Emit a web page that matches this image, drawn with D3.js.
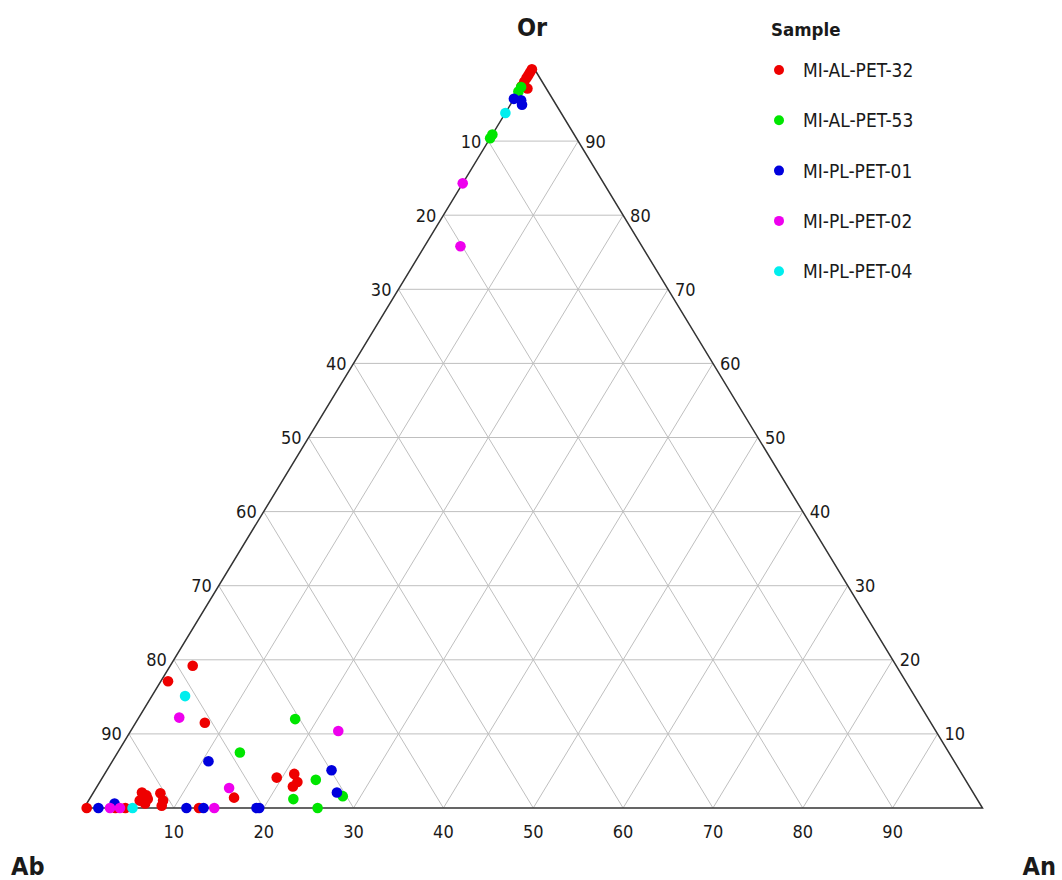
<!DOCTYPE html>
<html>
<head>
<meta charset="utf-8">
<script src="https://cdn.jsdelivr.net/npm/d3@7/dist/d3.min.js"></script>
<style>
    body { margin: 0; background: #fff; }
    svg { display: block; }
    text { font-family: "DejaVu Sans Condensed", "DejaVu Sans", sans-serif; fill: #1a1a1a; }
</style>
</head>
<body>
<svg id="chart"></svg>
<script>
// samples and their colours
const sampleNames = ["MI-AL-PET-32", "MI-AL-PET-53", "MI-PL-PET-01", "MI-PL-PET-02", "MI-PL-PET-04"];
const sampleColors = ["#ee0000", "#00e600", "#0000dd", "#ee00ee", "#00eeee"];

// compositions as [Ab, Or, An] in percent
const pet32 = [
    [0.3, 99.7, 0], [0.7, 99.3, 0], [1.1, 98.9, 0], [1.5, 98.5, 0], [2.0, 98.0, 0],
    [2.6, 97.4, 0], [2.1, 97.1, 0.8],
    [80.3, 19.2, 2.5], [82.1, 17.1, 0.8], [80.8, 11.5, 7.7], [82.6, 1.4, 16.0],
    [76.5, 4.1, 19.4], [74.3, 4.6, 21.1], [74.5, 3.5, 22.0], [75.3, 2.9, 21.8],
    [92.5, 2.1, 5.4], [93.3, 1.0, 5.7], [92.3, 1.2, 6.5], [92.9, 0.6, 6.5], [92.2, 1.7, 6.1],
    [90.5, 2.0, 7.5], [90.7, 1.0, 8.3], [91.2, 0.3, 8.5],
    [99.7, 0, 0.3], [96.5, 0, 3.5], [95.4, 0, 4.6], [87.2, 0, 12.8]
];
const pet53 = [
    [2.7, 97.3, 0], [3.3, 96.7, 0], [9.1, 90.9, 0], [9.6, 90.4, 0],
    [70.5, 12.0, 17.5], [78.9, 7.5, 13.6], [72.3, 3.8, 23.9], [76.1, 1.2, 22.7],
    [70.4, 1.6, 28.0], [74.0, 0, 26.0]
];
const pl01 = [
    [4.3, 95.7, 0], [3.6, 95.5, 0.9], [3.8, 94.9, 1.3],
    [83.0, 6.3, 10.7], [69.9, 5.1, 25.0], [70.8, 2.1, 27.1],
    [98.4, 0, 1.6], [96.3, 0.6, 3.1], [88.6, 0, 11.4], [86.7, 0, 13.3],
    [80.5, 0, 19.5], [80.8, 0, 19.2]
];
const pl02 = [
    [15.7, 84.3, 0], [20.2, 75.8, 4.0],
    [83.3, 12.2, 4.5], [66.5, 10.4, 23.1], [82.5, 2.7, 14.8],
    [97.1, 0, 2.9], [96.0, 0, 4.0], [85.5, 0, 14.5]
];
const pl04 = [
    [6.2, 93.8, 0], [81.2, 15.1, 3.7], [94.6, 0, 5.4]
];
const sampleData = [pet32, pet53, pl01, pl02, pl04];

const ticks = [10, 20, 30, 40, 50, 60, 70, 80, 90];

const width = 1062, height = 880;
const svg = d3.select("#chart").attr("width", width).attr("height", height);

// triangle geometry: x along An (+ half of Or), y along Or
const xScale = d3.scaleLinear().domain([0, 100]).range([84, 982.5]);
const yScale = d3.scaleLinear().domain([0, 100]).range([808, 67]);
const px = (ab, or, an) => [xScale(an + or / 2), yScale(or)];

const grid = svg.append("g")
    .attr("stroke", "#bfbfbf")
    .attr("stroke-width", 1)
    .attr("fill", "none");

ticks.forEach(v => {
    const lines = [
        [px(100 - v, v, 0), px(0, v, 100 - v)],   // constant Or
        [px(100 - v, 0, v), px(0, 100 - v, v)],   // constant An
        [px(v, 0, 100 - v), px(v, 100 - v, 0)]    // constant Ab
    ];
    lines.forEach(l => {
        grid.append("line")
            .attr("x1", l[0][0]).attr("y1", l[0][1])
            .attr("x2", l[1][0]).attr("y2", l[1][1]);
    });
});

const corners = [px(100, 0, 0), px(0, 0, 100), px(0, 100, 0)];
svg.append("path")
    .attr("d", d3.line()(corners) + "Z")
    .attr("fill", "none")
    .attr("stroke", "#333")
    .attr("stroke-width", 1.5);

// tick labels
const tickGroup = svg.append("g").style("font-size", "18px");
ticks.forEach(v => {
    const b = px(100 - v, 0, v);
    tickGroup.append("text")
        .attr("x", b[0]).attr("y", b[1] + 23)
        .attr("text-anchor", "middle")
        .attr("dominant-baseline", "central")
        .text(v);
    const l = px(v, 100 - v, 0);
    tickGroup.append("text")
        .attr("x", l[0] - 7).attr("y", l[1])
        .attr("text-anchor", "end")
        .attr("dominant-baseline", "central")
        .text(v);
    const r = px(0, v, 100 - v);
    tickGroup.append("text")
        .attr("x", r[0] + 7).attr("y", r[1])
        .attr("text-anchor", "start")
        .attr("dominant-baseline", "central")
        .text(v);
});

// vertex titles
const titles = [
    { t: "Or", x: 532, y: 36, a: "middle" },
    { t: "Ab", x: 11, y: 875, a: "start" },
    { t: "An", x: 1056, y: 875, a: "end" }
];
svg.selectAll("text.vertex")
    .data(titles)
    .join("text")
    .attr("class", "vertex")
    .attr("x", d => d.x).attr("y", d => d.y)
    .attr("text-anchor", d => d.a)
    .style("font-size", "25px")
    .style("font-weight", "bold")
    .text(d => d.t);

// points
sampleData.forEach((pts, i) => {
    svg.append("g")
        .selectAll("circle")
        .data(pts)
        .join("circle")
        .attr("cx", d => px(...d)[0])
        .attr("cy", d => px(...d)[1])
        .attr("r", 5.3)
        .attr("fill", sampleColors[i]);
});

// legend
const legend = svg.append("g").attr("transform", "translate(771, 0)");
legend.append("text")
    .attr("x", 0).attr("y", 36)
    .style("font-size", "18.5px")
    .style("font-weight", "bold")
    .text("Sample");

const item = legend.selectAll("g.item")
    .data(sampleNames)
    .join("g")
    .attr("class", "item")
    .attr("transform", (d, i) => `translate(0, ${70 + i * 50.3})`);
item.append("circle")
    .attr("cx", 8).attr("cy", 0).attr("r", 5)
    .attr("fill", (d, i) => sampleColors[i]);
item.append("text")
    .attr("x", 32).attr("y", 0)
    .attr("dominant-baseline", "central")
    .style("font-size", "19px")
    .text(d => d);
</script>
</body>
</html>
